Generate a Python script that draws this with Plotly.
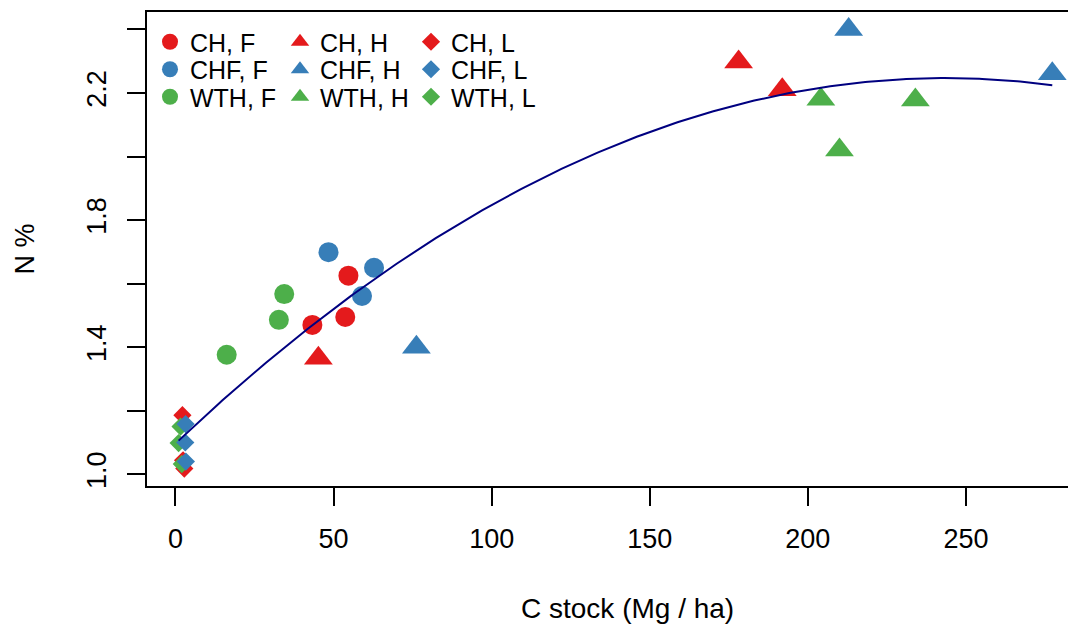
import numpy as np
import plotly.graph_objects as go

# ---- data ----
ch_f_x = [54.7, 53.7, 43.3]
ch_f_y = [1.625, 1.495, 1.470]
chf_f_x = [48.4, 62.8, 59.0]
chf_f_y = [1.699, 1.650, 1.561]
wth_f_x = [34.4, 32.7, 16.2]
wth_f_y = [1.567, 1.486, 1.376]

ch_h_x = [178.1, 191.9, 45.2]
ch_h_y = [2.298, 2.210, 1.365]
chf_h_x = [212.9, 277.3, 76.2]
chf_h_y = [2.400, 2.261, 1.400]
wth_h_x = [204.1, 234.0, 210.0]
wth_h_y = [2.180, 2.178, 2.021]

ch_l_x = [2.2, 2.4, 2.8]
ch_l_y = [1.186, 1.044, 1.018]
chf_l_x = [3.2, 3.1, 3.3]
chf_l_y = [1.158, 1.100, 1.040]
wth_l_x = [1.6, 1.0, 2.0]
wth_l_y = [1.150, 1.098, 1.032]

x_ticks = [0, 50, 100, 150, 200, 250]
y_ticks = [1.0, 1.2, 1.4, 1.6, 1.8, 2.0, 2.2, 2.4]
y_tick_text = ["1.0", "", "1.4", "", "1.8", "", "2.2", ""]

RED, BLUE, GREEN = "#E41A1C", "#377EB8", "#4DAF4A"
FONT = "Liberation Sans, Arial, sans-serif"

# page has an 8px default body margin; size the figure to fill the window
OFF = 8
W, H = 1076 - OFF, 628 - OFF
ML, MR, MT = 147 - OFF, 0, 12 - OFF
MB = H - (486 - OFF)
PW, PH = W - ML - MR, H - MT - MB

series = [
    ("CH, F", ch_f_x, ch_f_y, RED, "circle", 20, 0, 0),
    ("CHF, F", chf_f_x, chf_f_y, BLUE, "circle", 20, 0, 1),
    ("WTH, F", wth_f_x, wth_f_y, GREEN, "circle", 20, 0, 2),
    ("CH, H", ch_h_x, ch_h_y, RED, "triangle-up", 25, 1, 0),
    ("CHF, H", chf_h_x, chf_h_y, BLUE, "triangle-up", 25, 1, 1),
    ("WTH, H", wth_h_x, wth_h_y, GREEN, "triangle-up", 25, 1, 2),
    ("CH, L", ch_l_x, ch_l_y, RED, "diamond", 14, 2, 0),
    ("WTH, L", wth_l_x, wth_l_y, GREEN, "diamond", 14, 2, 2),
    ("CHF, L", chf_l_x, chf_l_y, BLUE, "diamond", 14, 2, 1),
]

col_px = [170, 300, 431]       # page px of legend symbol centres
row_px = [40.5, 68, 95.5]

fig = go.Figure()
legends = {}
for i, (name, xs, ys, col, sym, size, c, r) in enumerate(series):
    lid = "legend" if i == 0 else f"legend{i+1}"
    fig.add_trace(go.Scatter(
        x=xs, y=ys, mode="markers", name=name,
        marker=dict(color=col, symbol=sym, size=size, line=dict(width=0)),
        legend=lid, showlegend=True,
    ))
    lx = (col_px[c] - OFF - 20 - ML) / PW
    ly = 1 - (row_px[r] - OFF + 1.5 - MT) / PH
    legends[lid] = dict(
        x=lx, y=ly, xanchor="left", yanchor="middle",
        bgcolor="rgba(0,0,0,0)", borderwidth=0,
        font=dict(family=FONT, size=25, color="black"),
    )

# quadratic fit through all points
all_x = np.concatenate([np.array(s[1]) for s in series])
all_y = np.concatenate([np.array(s[2]) for s in series])
coef = np.polyfit(all_x, all_y, 2)
fx = np.linspace(all_x.min(), all_x.max(), 300)
fy = np.polyval(coef, fx)
fig.add_trace(go.Scatter(x=fx, y=fy, mode="lines", line=dict(color="#000080", width=2),
                         showlegend=False, hoverinfo="skip"))

x_range = [-9.0, 284.8]
y_range = [0.963, 2.455]

# x-axis title (the source plot region runs past the right edge of the image,
# so its title is centred further right than the visible plot area)
title_cx, title_cy = 627, 608
fig.add_annotation(
    text="C stock (Mg / ha)", xref="paper", yref="paper",
    x=(title_cx - OFF - ML) / PW, y=1 - (title_cy - OFF - MT) / PH,
    xanchor="center", yanchor="middle", showarrow=False,
    font=dict(family=FONT, size=28, color="black"),
)

fig.update_layout(
    width=W, height=H,
    margin=dict(l=ML, r=MR, t=MT, b=MB, pad=0),
    paper_bgcolor="white", plot_bgcolor="white",
    font=dict(family=FONT, size=27, color="black"),
    xaxis=dict(
        range=x_range, tickvals=x_ticks, ticks="outside", ticklen=18, tickwidth=2,
        tickcolor="black", showline=True, linecolor="black", linewidth=2, mirror=True,
        showgrid=False, zeroline=False, tickfont=dict(size=27),
        ticklabelstandoff=10, automargin=False,
    ),
    yaxis=dict(
        range=y_range, tickvals=y_ticks, ticktext=y_tick_text, ticks="outside",
        ticklen=18, tickwidth=2, tickcolor="black", showline=True, linecolor="black",
        linewidth=2, mirror=False, showgrid=False, zeroline=False,
        tickangle=-90, tickfont=dict(size=27), ticklabelstandoff=10,
        title=dict(text="N %", font=dict(size=27), standoff=40),
        automargin=False,
    ),
    **legends,
)

fig.write_html("out.html")
